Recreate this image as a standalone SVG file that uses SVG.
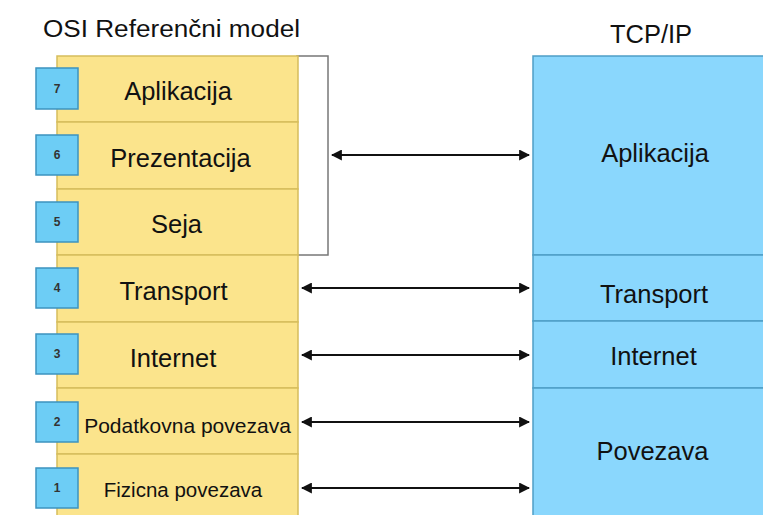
<svg xmlns="http://www.w3.org/2000/svg" width="763" height="515" viewBox="0 0 763 515">
<style>
text{font-family:"Liberation Sans",Arial,sans-serif;fill:#111}
.osi{fill:#fbe48c;stroke:#d6bd5c;stroke-width:1.5}
.tcp{fill:#8ad7fd;stroke:#4f9ec6;stroke-width:1.5}
.num{fill:#6dcdf5;stroke:#3d93bf;stroke-width:1.5}
.nt{font-size:12px;font-weight:bold;fill:#333;text-anchor:middle}
.lbl{text-anchor:middle}
.big{font-size:25.5px}
.conn{stroke:#111;stroke-width:2;fill:none;marker-start:url(#ah);marker-end:url(#ah)}
</style>
<defs>
<marker id="ah" viewBox="0 0 10 10" refX="9" refY="5" markerWidth="5.5" markerHeight="5.5" orient="auto-start-reverse" markerUnits="strokeWidth">
<path d="M0,0 L10,5 L0,10 z" fill="#111"/>
</marker>
</defs>
<rect width="763" height="515" fill="#fff"/>
<text x="171.5" y="37" font-size="23" class="lbl" textLength="257" lengthAdjust="spacingAndGlyphs">OSI Referenčni model</text>
<text x="651" y="43" font-size="25.5" class="lbl">TCP/IP</text>

<g id="bracket"><rect x="297" y="56" width="31" height="199" fill="#fff" stroke="#777" stroke-width="1.5"/></g>

<g id="osi7"><rect class="osi" x="57" y="56" width="241" height="66"/><rect class="num" x="36" y="68" width="42" height="41"/><text class="nt" x="57" y="93">7</text><text class="lbl big" x="178" y="100">Aplikacija</text></g>
<g id="osi6"><rect class="osi" x="57" y="122" width="241" height="67"/><rect class="num" x="36" y="135" width="42" height="40"/><text class="nt" x="57" y="159">6</text><text class="lbl big" x="180.5" y="167">Prezentacija</text></g>
<g id="osi5"><rect class="osi" x="57" y="189" width="241" height="66"/><rect class="num" x="36" y="202" width="42" height="40"/><text class="nt" x="57" y="226">5</text><text class="lbl big" x="176.5" y="233">Seja</text></g>
<g id="osi4"><rect class="osi" x="57" y="255" width="241" height="67"/><rect class="num" x="36" y="268" width="42" height="40"/><text class="nt" x="57" y="292">4</text><text class="lbl big" x="173.5" y="300">Transport</text></g>
<g id="osi3"><rect class="osi" x="57" y="322" width="241" height="66"/><rect class="num" x="36" y="334" width="42" height="40"/><text class="nt" x="57" y="358">3</text><text class="lbl big" x="173" y="367">Internet</text></g>
<g id="osi2"><rect class="osi" x="57" y="388" width="241" height="66"/><rect class="num" x="36" y="402" width="42" height="40"/><text class="nt" x="57" y="426">2</text><text class="lbl" x="187.5" y="433" font-size="21">Podatkovna povezava</text></g>
<g id="osi1"><rect class="osi" x="57" y="454" width="241" height="70"/><rect class="num" x="36" y="468" width="42" height="40"/><text class="nt" x="57" y="492">1</text><text class="lbl" x="183" y="497" font-size="20.5">Fizicna povezava</text></g>

<g id="tcp-app"><rect class="tcp" x="533" y="56" width="240" height="199"/><text class="lbl big" x="655" y="162">Aplikacija</text></g>
<g id="tcp-transport"><rect class="tcp" x="533" y="255" width="240" height="66"/><text class="lbl big" x="654" y="303">Transport</text></g>
<g id="tcp-internet"><rect class="tcp" x="533" y="321" width="240" height="67"/><text class="lbl big" x="653.5" y="365">Internet</text></g>
<g id="tcp-link"><rect class="tcp" x="533" y="388" width="240" height="140"/><text class="lbl big" x="652.5" y="460">Povezava</text></g>

<g id="connectors">
<line class="conn" x1="332" y1="155" x2="529" y2="155"/>
<line class="conn" x1="302" y1="288" x2="529" y2="288"/>
<line class="conn" x1="302" y1="355" x2="529" y2="355"/>
<line class="conn" x1="302" y1="422" x2="529" y2="422"/>
<line class="conn" x1="302" y1="488" x2="529" y2="488"/>
</g>
</svg>
